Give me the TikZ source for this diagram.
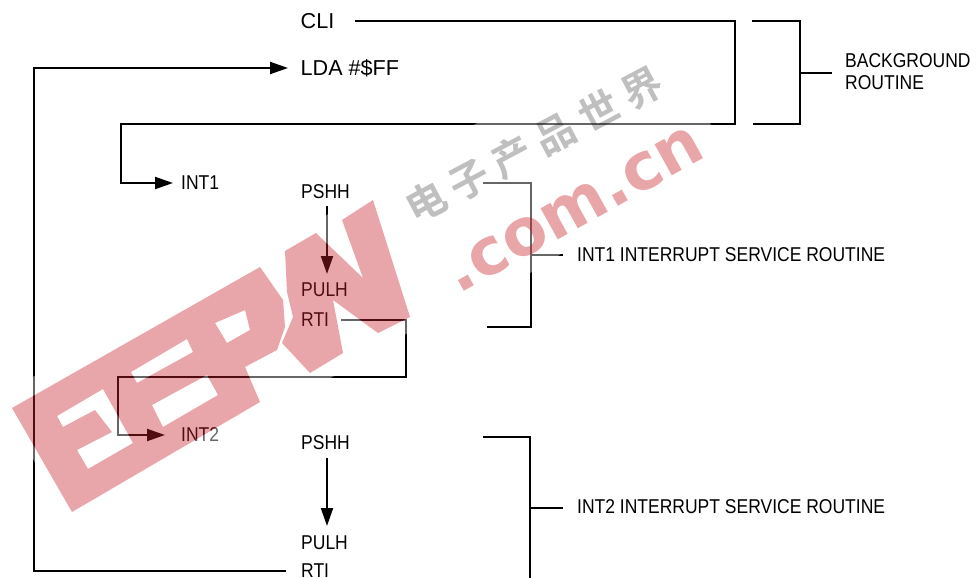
\documentclass[tikz,border=0pt]{standalone}
\usepackage{fontspec}
\usetikzlibrary{arrows.meta}
\setmainfont{Liberation Sans}
\newfontfamily\condfont[FakeStretch=.875]{Liberation Sans}
\newfontfamily\cjkwm{Noto Sans CJK SC}[BoldFont={Noto Sans CJK SC Bold},LetterSpace=22]
\newfontfamily\wmlatin{DejaVu Sans Bold}
\definecolor{wmred}{RGB}{200,32,42}
\newcommand{\wmletters}{
  (12,408) -- (72,512) -- (260,402) -- (245,367) -- (277,350) -- (285,327) -- (283,300) -- (267,277) -- (260,267) -- cycle
  (57,416) -- (103,389) -- (133,443) -- (88,469) -- (77,450) -- (112,432) -- (95,410) -- (63,427) -- cycle
  (131,372) -- (187,339) -- (193,352) -- (137,383) -- cycle
  (152,405) -- (207,375) -- (218,395) -- (163,427) -- cycle
  (215,323) -- (245,310) -- (250,330) -- (227,343) -- cycle
  (285,251) -- (316,233) -- (363,278) -- (342,220) -- (373,200) -- (410,317) -- (378,333) -- (333,300) -- (343,353) -- (310,373) -- (282,343) -- (293,317) -- (287,292) -- cycle
}
\tikzset{
  big/.style={anchor=west,inner sep=0pt,font=\fontsize{21.6}{21.6}\selectfont},
  small/.style={anchor=west,inner sep=0pt,font=\condfont\fontsize{20}{20}\selectfont,align=left},
  wire/.style={line width=2pt,line cap=butt,line join=miter,draw=black},
  flow/.style={wire,-{Triangle[length=18pt,width=12pt]}}
}
\begin{document}
\begin{tikzpicture}[x=1pt,y=-1pt]
\useasboundingbox (0,0) rectangle (977,578);
% labels
\node[big] (cli) at (300.5,21) {CLI};
\node[big] (lda) at (300.5,68) {LDA \#\$FF};
\node[small] (int1) at (181,183) {INT1};
\node[small] (pshhA) at (301,192) {PSHH};
\node[small] (pulhA) at (301,290) {PULH};
\node[small] (rtiA) at (301,320) {RTI};
\node[small] (int2) at (181,435) {INT2};
\node[small] (pshhB) at (301,443) {PSHH};
\node[small] (pulhB) at (301,543) {PULH};
\node[small] (rtiB) at (301,571) {RTI};
\node[small,font=\condfont\fontsize{20}{22}\selectfont] (bg) at (845,72) {BACKGROUND\\ROUTINE};
\node[small] (isrA) at (577,255) {INT1 INTERRUPT SERVICE ROUTINE};
\node[small] (isrB) at (577,507) {INT2 INTERRUPT SERVICE ROUTINE};
% bend points
\coordinate (a1) at (355,21);
\coordinate (a2) at (735,21);
\coordinate (a3) at (735,124);
\coordinate (a4) at (121,124);
\coordinate (a5) at (121,183);
\coordinate (b1) at (341,320);
\coordinate (b2) at (406,320);
\coordinate (b3) at (406,377);
\coordinate (b4) at (118,377);
\coordinate (b5) at (118,435);
\coordinate (c1) at (286,571);
\coordinate (c2) at (34,571);
\coordinate (c3) at (34,68);
% connectors
\draw[flow] (a1) -- (a2) -- (a3) -- (a4) -- (a5) -- ([xshift=-8pt]int1.west);
\draw[flow] (b1) -- (b2) -- (b3) -- (b4) -- (b5) -- ([xshift=-16pt]int2.west);
\draw[flow] (c1) -- (c2) -- (c3) -- ([xshift=-12.5pt]lda.west);
\draw[flow] (327,206) coordinate (d1) -- (327,274) coordinate (d2);
\draw[flow] (327,458) coordinate (e1) -- (327,526) coordinate (e2);
% brackets
\draw[wire] (752,21) -- (800,21) -- (800,124) -- (753,124);
\draw[wire] (800,73) -- (832,73);
\draw[wire] (483,183) -- (531,183) -- (531,327) -- (487,327);
\draw[wire] (531,255) -- (563,255);
\draw[wire] (483,437) -- (530,437) -- (530,578);
\draw[wire] (530,508) -- (563,508);
% overlaid mark: pale halo, red letters, grey characters
\fill[white,opacity=.4,even odd rule] (0,395) -- (390,180) -- (430,320) -- (70,530) -- cycle \wmletters;
\fill[white,opacity=.4] (395,170) -- (640,30) -- (730,150) -- (470,310) -- cycle;
\fill[wmred,opacity=.4,even odd rule] \wmletters;
\node[rotate=29,text=wmred,opacity=.4,inner sep=0pt,font=\wmlatin\fontsize{65}{65}\selectfont] (wmcom) at (575,210) {.com.cn};
\node[rotate=28,text=black,opacity=.25,inner sep=0pt,font=\cjkwm\bfseries\fontsize{40}{40}\selectfont] (wmcjk) at (534,145) {电子产品世界};
\end{tikzpicture}
\end{document}
